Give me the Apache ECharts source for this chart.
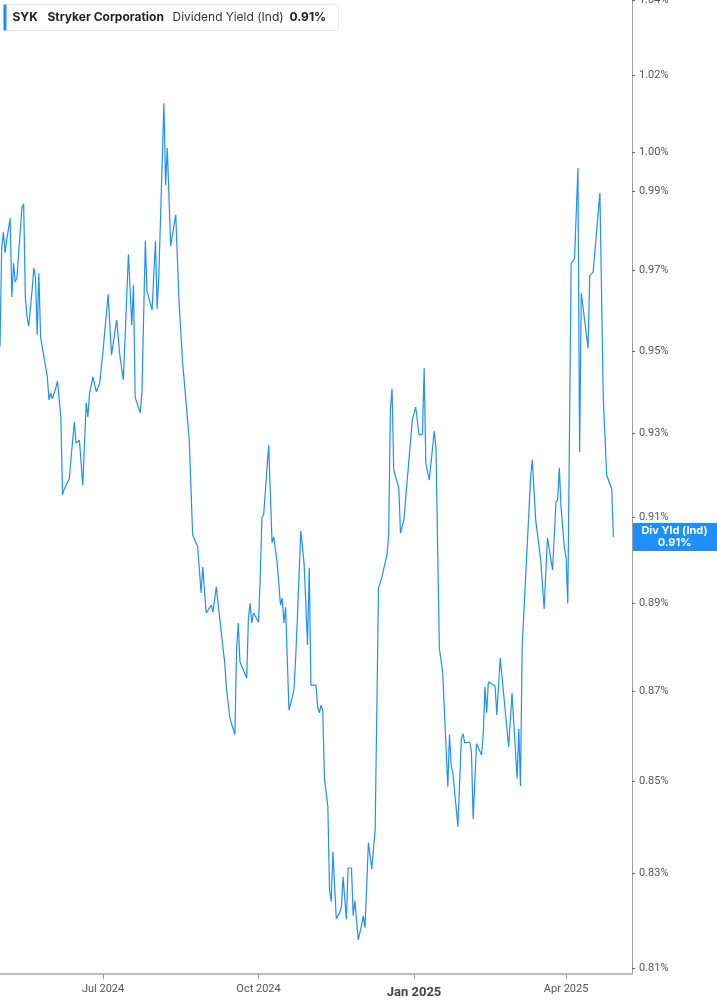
<!DOCTYPE html>
<html>
<head>
<meta charset="utf-8">
<script src="https://cdn.jsdelivr.net/npm/echarts@6/dist/echarts.min.js"></script>
<style>
  html, body { margin: 0; padding: 0; background: #fff; }
  #chart { width: 717px; height: 1005px; }
</style>
</head>
<body>
<div id="chart"></div>
<script>
// SYK dividend yield (ind)
const dates = [
  '2024-05-01','2024-05-02','2024-05-03','2024-05-04','2024-05-05','2024-05-07','2024-05-08','2024-05-09','2024-05-10','2024-05-11',
  '2024-05-14','2024-05-15','2024-05-16','2024-05-17','2024-05-18','2024-05-20','2024-05-21','2024-05-22','2024-05-23','2024-05-24',
  '2024-05-25','2024-05-29','2024-05-30','2024-05-31','2024-06-01','2024-06-03','2024-06-04','2024-06-06','2024-06-07','2024-06-08',
  '2024-06-11','2024-06-12','2024-06-13','2024-06-14','2024-06-15','2024-06-17','2024-06-19','2024-06-21','2024-06-22','2024-06-23',
  '2024-06-25','2024-06-27','2024-06-28','2024-06-29','2024-07-01','2024-07-04','2024-07-06','2024-07-09','2024-07-11','2024-07-13',
  '2024-07-16','2024-07-18','2024-07-19','2024-07-20','2024-07-23','2024-07-24','2024-07-26','2024-07-27','2024-07-30','2024-08-01',
  '2024-08-02','2024-08-03','2024-08-06','2024-08-07','2024-08-08','2024-08-10','2024-08-13','2024-08-15','2024-08-17','2024-08-19',
  '2024-08-21','2024-08-23','2024-08-26','2024-08-28','2024-08-29','2024-08-31','2024-09-03','2024-09-04','2024-09-06','2024-09-09',
  '2024-09-11','2024-09-12','2024-09-14','2024-09-17','2024-09-18','2024-09-19','2024-09-20','2024-09-21','2024-09-24','2024-09-25',
  '2024-09-26','2024-09-27','2024-09-28','2024-10-01','2024-10-02','2024-10-03','2024-10-04','2024-10-07','2024-10-09','2024-10-10',
  '2024-10-12','2024-10-14','2024-10-15','2024-10-16','2024-10-17','2024-10-19','2024-10-21','2024-10-22','2024-10-23','2024-10-24',
  '2024-10-26','2024-10-27','2024-10-28','2024-10-30','2024-10-31','2024-11-01','2024-11-04','2024-11-05','2024-11-06','2024-11-07',
  '2024-11-08','2024-11-09','2024-11-11','2024-11-12','2024-11-13','2024-11-14','2024-11-16','2024-11-18','2024-11-19','2024-11-20',
  '2024-11-22','2024-11-23','2024-11-25','2024-11-26','2024-11-27','2024-11-29','2024-12-01','2024-12-02','2024-12-03','2024-12-05',
  '2024-12-07','2024-12-09','2024-12-11','2024-12-13','2024-12-16','2024-12-17','2024-12-18','2024-12-19','2024-12-20','2024-12-23',
  '2024-12-24','2024-12-26','2024-12-31','2025-01-02','2025-01-04','2025-01-06','2025-01-07','2025-01-08','2025-01-10','2025-01-13',
  '2025-01-14','2025-01-16','2025-01-18','2025-01-21','2025-01-22','2025-01-23','2025-01-24','2025-01-27','2025-01-29','2025-01-30',
  '2025-01-31','2025-02-03','2025-02-04','2025-02-05','2025-02-07','2025-02-10','2025-02-11','2025-02-12','2025-02-13','2025-02-14',
  '2025-02-18','2025-02-19','2025-02-21','2025-02-23','2025-02-26','2025-02-28','2025-03-03','2025-03-04','2025-03-05','2025-03-06',
  '2025-03-11','2025-03-12','2025-03-13','2025-03-14','2025-03-17','2025-03-19','2025-03-21','2025-03-24','2025-03-26','2025-03-27',
  '2025-03-28','2025-03-29','2025-03-31','2025-04-01','2025-04-02','2025-04-04','2025-04-06','2025-04-08','2025-04-09','2025-04-10',
  '2025-04-14','2025-04-15','2025-04-17','2025-04-21','2025-04-23','2025-04-25','2025-04-28','2025-04-29'
];
const yields = [
  0.9510,0.9755,0.9796,0.9743,0.9776,0.9831,0.9633,0.9717,0.9670,0.9680,
  0.9859,0.9867,0.9633,0.9583,0.9561,0.9650,0.9705,0.9682,0.9539,0.9692,
  0.9534,0.9436,0.9380,0.9397,0.9383,0.9409,0.9426,0.9339,0.9153,0.9167,
  0.9191,0.9238,0.9238,0.9327,0.9276,0.9283,0.9176,0.9373,0.9339,0.9397,
  0.9436,0.9400,0.9397,0.9421,0.9501,0.9640,0.9489,0.9576,0.9486,0.9429,
  0.9740,0.9563,0.9663,0.9386,0.9349,0.9399,0.9774,0.9647,0.9601,0.9774,
  0.9604,0.9686,1.0127,0.9915,1.0011,0.9761,0.9840,0.9617,0.9474,0.9381,
  0.9283,0.9059,0.9031,0.8924,0.8984,0.8878,0.8896,0.8880,0.8938,0.8832,
  0.8764,0.8707,0.8641,0.8603,0.8794,0.8855,0.8766,0.8769,0.8730,0.8866,
  0.8900,0.8855,0.8878,0.8857,0.8961,0.9100,0.9105,0.9271,0.9040,0.9054,
  0.8994,0.8896,0.8912,0.8855,0.8891,0.8658,0.8687,0.8707,0.8778,0.8869,
  0.9068,0.9031,0.8989,0.8805,0.8982,0.8714,0.8714,0.8665,0.8652,0.8669,
  0.8656,0.8507,0.8446,0.8265,0.8240,0.8347,0.8204,0.8216,0.8229,0.8293,
  0.8202,0.8312,0.8312,0.8210,0.8242,0.8159,0.8191,0.8210,0.8185,0.8366,
  0.8310,0.8394,0.8935,0.8961,0.9012,0.9059,0.9356,0.9407,0.9212,0.9169,
  0.9063,0.9094,0.9332,0.9363,0.9295,0.9298,0.9458,0.9229,0.9188,0.9305,
  0.9264,0.8798,0.8741,0.8488,0.8603,0.8536,0.8518,0.8401,0.8594,0.8605,
  0.8585,0.8587,0.8565,0.8418,0.8583,0.8558,0.8607,0.8710,0.8652,0.8721,
  0.8712,0.8647,0.8775,0.8696,0.8576,0.8696,0.8507,0.8616,0.8490,0.8800,
  0.9195,0.9236,0.9236,0.9094,0.9000,0.8887,0.9052,0.8977,0.9136,0.9141,
  0.9217,0.9124,0.9028,0.9005,0.8900,0.9717,0.9728,0.9959,0.9255,0.9643,
  0.9506,0.9687,0.9695,0.9895,0.9387,0.9200,0.9167,0.9054
];
const yTicks = [0.81, 0.83, 0.85, 0.87, 0.89, 0.91, 0.93, 0.95, 0.97, 0.99, 1.00, 1.02, 1.04];
const xTicks = ['2024-07-01', '2024-10-01', '2025-01-01', '2025-04-01'];

const blue = '#1E8FFF';
const toTime = s => echarts.number.parseDate(s).getTime();
const chart = echarts.init(document.getElementById('chart'));
const lastVal = yields[yields.length - 1];
const seriesData = dates.map((d, i) => [toTime(d), yields[i]]);
const xTickTimes = xTicks.map(toTime);
const xMax = toTime('2025-05-10');

const legendBox = {
  type: 'group',
  left: 3,
  top: 4,
  children: [
    { type: 'rect', shape: { x: 0, y: 0, width: 335, height: 26, r: 3 }, style: { fill: '#fff', stroke: '#e6e6e6', lineWidth: 1 } },
    { type: 'rect', shape: { x: 0, y: 0, width: 3, height: 26 }, style: { fill: blue } },
    { type: 'text', x: 9, y: 13, style: { text: 'SYK', fontFamily: 'Inter', fontSize: 12, fontWeight: 'bold', fill: '#222', verticalAlign: 'middle' } },
    { type: 'text', x: 44, y: 13, style: { text: 'Stryker Corporation', fontFamily: 'Inter', fontSize: 12, fontWeight: 'bold', fill: '#222', verticalAlign: 'middle' } },
    { type: 'text', x: 169, y: 13, style: { text: 'Dividend Yield (Ind)', fontFamily: 'Inter', fontSize: 12, fill: '#333', verticalAlign: 'middle' } },
    { type: 'text', x: 286, y: 13, style: { text: lastVal.toFixed(2) + '%', fontFamily: 'Inter', fontSize: 12, fontWeight: 'bold', fill: '#222', verticalAlign: 'middle' } }
  ]
};

const option = {
  animation: false,
  grid: { left: 0, right: 85, top: 0, bottom: 31, outerBoundsMode: 'none', containLabel: false },
  xAxis: {
    type: 'value',
    min: toTime('2024-05-01'),
    max: xMax,
    axisLine: { show: true, lineStyle: { color: '#bdbdbd', width: 2 } },
    axisTick: { show: true, length: 5, lineStyle: { color: '#999' }, customValues: xTickTimes },
    splitLine: { show: false },
    axisLabel: {
      customValues: xTickTimes,
      margin: 10,
      fontFamily: 'Roboto',
      fontSize: 11,
      color: '#555',
      formatter: function (val) {
        const txt = echarts.time.format(val, '{MMM} {yyyy}', false);
        return new Date(val).getMonth() === 0 ? '{b|' + txt + '}' : txt;
      },
      rich: {
        b: { fontFamily: 'Roboto', fontSize: 13, fontWeight: 'bold', color: '#444', padding: [2, 0, 0, 0] }
      }
    }
  },
  yAxis: {
    type: 'log',
    logBase: 10,
    position: 'right',
    min: 0.80875,
    max: 1.0401,
    axisLine: { show: true, lineStyle: { color: '#9e9e9e', width: 1 } },
    axisTick: { show: true, length: 3, lineStyle: { color: '#666' }, customValues: yTicks },
    splitLine: { show: false },
    axisLabel: {
      customValues: yTicks,
      margin: 7,
      fontFamily: 'Roboto',
      fontSize: 11,
      color: '#555',
      formatter: v => v.toFixed(2) + '%'
    }
  },
  series: [{
    type: 'line',
    data: seriesData,
    showSymbol: false,
    clip: false,
    lineStyle: { color: blue, width: 1.2 },
    itemStyle: { color: blue },
    z: 3
  }],
  graphic: [legendBox]
};
chart.setOption(option);

// last-value tag on the right axis, placed through the axis scales
const tagY = chart.convertToPixel({ yAxisIndex: 0 }, lastVal);
const tagX = chart.convertToPixel({ xAxisIndex: 0 }, xMax);
option.graphic = [legendBox, {
  type: 'group',
  x: tagX,
  y: tagY - 14,
  z: 100,
  children: [
    { type: 'rect', shape: { x: 0, y: 0, width: 85, height: 28 }, style: { fill: blue } },
    { type: 'text', x: 42.5, y: 8, style: { text: 'Div Yld (Ind)', fontFamily: 'Inter', fontSize: 11, fontWeight: 'bold', fill: '#fff', align: 'center', verticalAlign: 'middle' } },
    { type: 'text', x: 42.5, y: 20, style: { text: lastVal.toFixed(2) + '%', fontFamily: 'Inter', fontSize: 11, fontWeight: 'bold', fill: '#fff', align: 'center', verticalAlign: 'middle' } }
  ]
}];
chart.setOption(option, true);
</script>
</body>
</html>
